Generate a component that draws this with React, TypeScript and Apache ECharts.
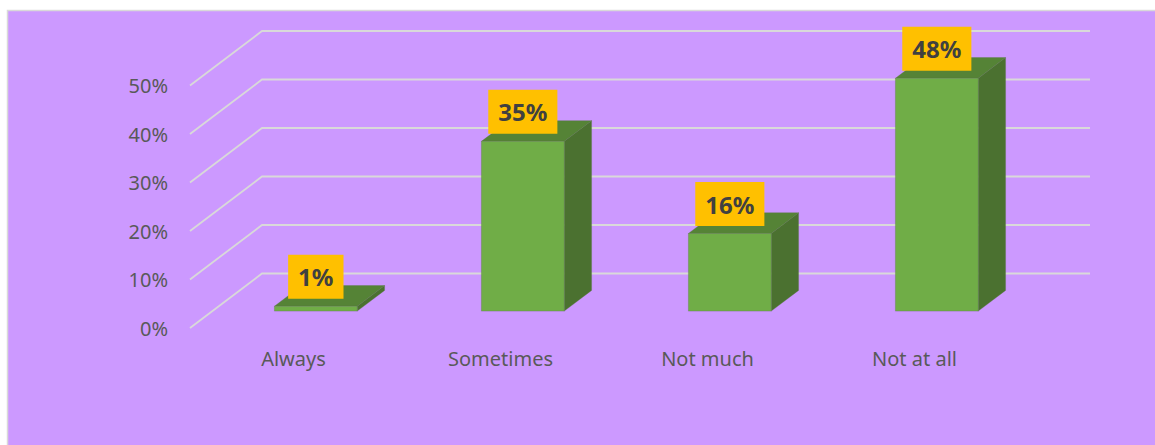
import React, { useEffect, useRef } from "react";
import * as echarts from "echarts";

const categories = ["Always", "Sometimes", "Not much", "Not at all"];
const values = [1, 35, 16, 48];
const yTicks = [0, 10, 20, 30, 40, 50];

const FONT = '"Noto Sans", "Open Sans", sans-serif';
const DEPTH_X = 72;
const DEPTH_Y = -54.5;
const BAR_D0 = 0.31;
const BAR_D = 0.38;
const BAR_W = 0.4;

export default function App() {
  const ref = useRef<HTMLDivElement>(null);
  useEffect(() => {
    if (!ref.current) return;
    const chart = echarts.init(ref.current, null, { renderer: "svg" });
    const n = categories.length;
    const option: any = {
      animation: false,
      backgroundColor: "#ffffff",
      graphic: [
        {
          type: "rect",
          z: -10,
          shape: { x: 7.5, y: 10.5, width: 1160, height: 450 },
          style: { fill: "#CC99FF", stroke: "#D9D9D9", lineWidth: 1.5 },
        },
      ],
      grid: { left: 190, right: 137, top: 85.5, bottom: 117 },
      xAxis: [
        {
          type: "category",
          data: categories,
          axisLine: { show: false },
          axisTick: { show: false },
          axisLabel: { color: "#595959", fontSize: 20, fontFamily: FONT, margin: 20 },
        },
        { type: "value", min: 0, max: n, show: false },
      ],
      yAxis: {
        type: "value",
        min: 0,
        max: 50,
        interval: 10,
        splitLine: { show: false },
        axisLine: { show: false },
        axisTick: { show: false },
        axisLabel: {
          formatter: "{value}%",
          color: "#595959",
          fontSize: 20,
          fontFamily: FONT,
          margin: 22,
        },
      },
      series: [
        {
          type: "custom",
          xAxisIndex: 1,
          yAxisIndex: 0,
          z: 1,
          silent: true,
          data: yTicks.map((v) => [0, v]),
          renderItem: (params: any, api: any) => {
            const v = api.value(1);
            const p0 = api.coord([0, v]);
            const p2 = api.coord([n, v]);
            return {
              type: "polyline",
              shape: {
                points: [
                  [p0[0], p0[1]],
                  [p0[0] + DEPTH_X, p0[1] + DEPTH_Y],
                  [p2[0] + DEPTH_X, p2[1] + DEPTH_Y],
                ],
              },
              style: { stroke: "#D9D9D9", lineWidth: 1.8, fill: "none" },
            };
          },
        },
        {
          type: "custom",
          xAxisIndex: 0,
          yAxisIndex: 0,
          z: 3,
          data: values.map((v, i) => [i, v]),
          renderItem: (params: any, api: any) => {
            const idx = api.value(0);
            const v = api.value(1);
            const top = api.coord([idx, v]);
            const base = api.coord([idx, 0]);
            const band = api.size([1, 0])[0];
            const hw = (band * BAR_W) / 2;
            const ox = BAR_D0 * DEPTH_X;
            const oy = BAR_D0 * DEPTH_Y;
            const dx = BAR_D * DEPTH_X;
            const dy = BAR_D * DEPTH_Y;
            const cx = top[0] + ox;
            const x0 = cx - hw;
            const x1 = cx + hw;
            const yt = top[1] + oy;
            const yb = base[1] + oy;
            const edge = { stroke: "rgba(90,120,70,0.6)", lineWidth: 0.6 };
            return {
              type: "group",
              children: [
                {
                  type: "polygon",
                  shape: { points: [[x1, yt], [x1 + dx, yt + dy], [x1 + dx, yb + dy], [x1, yb]] },
                  style: { fill: "#4B7130", ...edge },
                },
                {
                  type: "polygon",
                  shape: { points: [[x0, yt], [x1, yt], [x1 + dx, yt + dy], [x0 + dx, yt + dy]] },
                  style: { fill: "#558336", ...edge },
                },
                {
                  type: "polygon",
                  shape: { points: [[x0, yt], [x1, yt], [x1, yb], [x0, yb]] },
                  style: { fill: "#70AD47", ...edge },
                },
                {
                  type: "text",
                  z2: 10,
                  style: {
                    text: v + "%",
                    x: cx,
                    y: yt - 7.5,
                    align: "center",
                    verticalAlign: "bottom",
                    fill: "#404040",
                    fontSize: 24,
                    fontWeight: "bold",
                    fontFamily: FONT,
                    backgroundColor: "#FFC000",
                    padding: [10, 10, 10, 10],
                  },
                },
              ],
            };
          },
        },
      ],
    };
    chart.setOption(option);
    return () => chart.dispose();
  }, []);
  return (
    <div
      ref={ref}
      style={{ position: "absolute", left: 0, top: 0, width: 1155, height: 445 }}
    />
  );
}
